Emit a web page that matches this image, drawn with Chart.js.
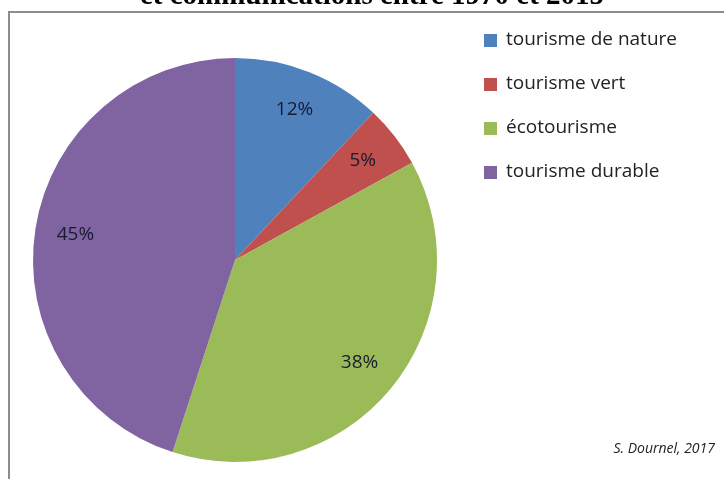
<!DOCTYPE html>
<html>
<head>
<meta charset="utf-8">
<script src="https://cdn.jsdelivr.net/npm/chart.js@4"></script>
<style>
  html, body { margin: 0; padding: 0; background: #fff; }
  #wrap { position: relative; width: 724px; height: 479px; overflow: hidden; }
  #frame {
    position: absolute; left: 8px; top: 11px; width: 730px; height: 480px;
    border-left: 2px solid #8c8c8c; border-top: 2px solid #8c8c8c;
  }
  #credit {
    position: absolute; right: 9px; top: 438px;
    font: italic 14px "Open Sans", sans-serif; color: #222;
  }
  canvas { position: absolute; left: 0; top: 0; }
</style>
</head>
<body>
<div id="wrap">
  <div id="frame"></div>
  <canvas id="chart" width="724" height="479"></canvas>
  <div id="credit">S. Dournel, 2017</div>
</div>
<script>
const titleText = "et communications entre 1970 et 2015";
const categories = ["tourisme de nature", "tourisme vert", "écotourisme", "tourisme durable"];
const shares = [12, 5, 38, 45];
const colors = ["#4F81BD", "#C0504D", "#9BBB59", "#8064A2"];

// title is cut by the top edge of the picture
const cutTitle = {
  id: 'cutTitle',
  afterDraw(chart) {
    const ctx = chart.ctx;
    ctx.save();
    ctx.font = 'bold 29px "Liberation Serif", serif';
    ctx.fillStyle = '#000';
    ctx.textAlign = 'center';
    ctx.textBaseline = 'alphabetic';
    ctx.fillText(titleText, 372, 4);
    ctx.restore();
  }
};

// percent labels inside the slices
const sliceLabels = {
  id: 'sliceLabels',
  afterDatasetsDraw(chart) {
    const ctx = chart.ctx;
    const meta = chart.getDatasetMeta(0);
    ctx.save();
    ctx.font = '19px "Open Sans", sans-serif';
    ctx.fillStyle = '#1a1a2e';
    ctx.textAlign = 'center';
    ctx.textBaseline = 'middle';
    meta.data.forEach(function(arc, i) {
      const p = arc.getProps(['x', 'y', 'startAngle', 'endAngle', 'outerRadius']);
      const mid = (p.startAngle + p.endAngle) / 2;
      const r = p.outerRadius * 0.8;
      ctx.fillText(shares[i] + '%', p.x + Math.cos(mid) * r, p.y + Math.sin(mid) * r);
    });
    ctx.restore();
  }
};

// legend on the right
const sideLegend = {
  id: 'sideLegend',
  afterDraw(chart) {
    const ctx = chart.ctx;
    ctx.save();
    ctx.font = '19px "Open Sans", sans-serif';
    ctx.textBaseline = 'middle';
    categories.forEach(function(name, i) {
      const y = 40 + i * 44;
      ctx.fillStyle = colors[i];
      ctx.fillRect(484, y - 6, 13, 13);
      ctx.fillStyle = '#222';
      ctx.fillText(name, 506, y);
    });
    ctx.restore();
  }
};

new Chart('chart', {
  type: 'pie',
  data: {
    labels: categories,
    datasets: [{
      data: shares,
      backgroundColor: colors,
      borderWidth: 0
    }]
  },
  options: {
    responsive: false,
    animation: false,
    layout: { padding: { left: 33, right: 287, top: 58, bottom: 17 } },
    plugins: {
      legend: { display: false },
      tooltip: { enabled: false }
    }
  },
  plugins: [sliceLabels, sideLegend, cutTitle]
});
</script>
</body>
</html>
